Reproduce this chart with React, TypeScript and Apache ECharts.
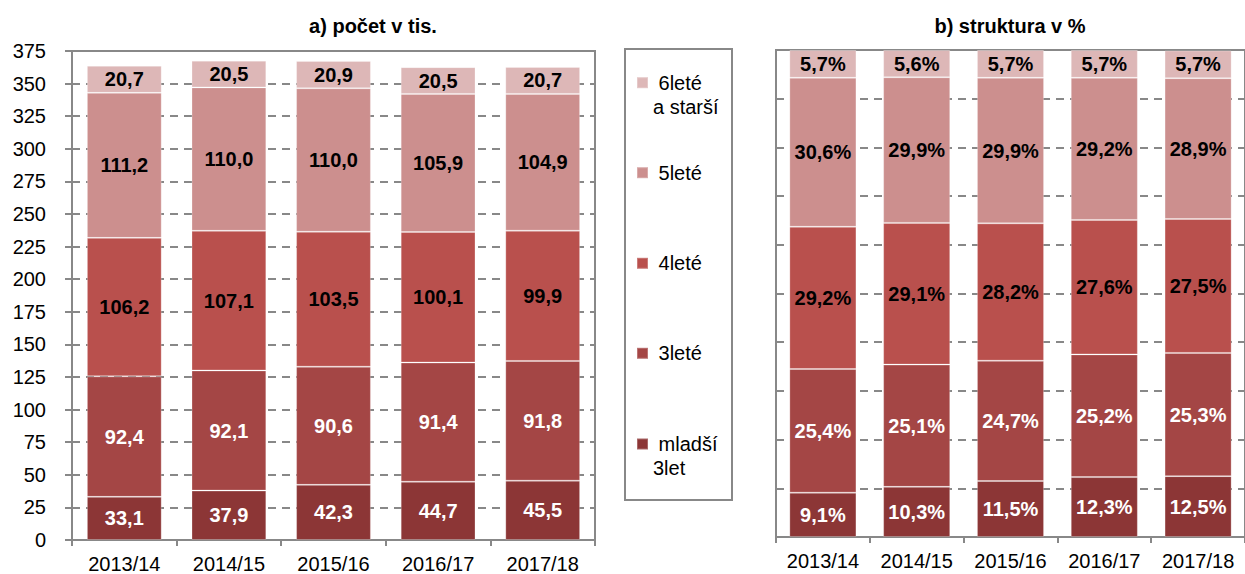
import React, { useEffect, useRef } from "react";
import * as echarts from "echarts";

const categories = ["2013/14", "2014/15", "2015/16", "2016/17", "2017/18"];
const seriesNames = ["mladší 3let", "3leté", "4leté", "5leté", "6leté a starší"];
const legendLabels = ["\n mladší\n3let", " 3leté", " 4leté", " 5leté", "\n 6leté\na starší"];
const colors = ["#8C3636", "#A44645", "#B9504D", "#CC8F8E", "#DDB7B7"];
const labelColors = ["#ffffff", "#ffffff", "#000000", "#000000", "#000000"];

// a) počet v tis.
const countMladsi = [33.1, 37.9, 42.3, 44.7, 45.5];
const count3 = [92.4, 92.1, 90.6, 91.4, 91.8];
const count4 = [106.2, 107.1, 103.5, 100.1, 99.9];
const count5 = [111.2, 110.0, 110.0, 105.9, 104.9];
const count6 = [20.7, 20.5, 20.9, 20.5, 20.7];

// b) struktura v %
const pctMladsi = [9.1, 10.3, 11.5, 12.3, 12.5];
const pct3 = [25.4, 25.1, 24.7, 25.2, 25.3];
const pct4 = [29.2, 29.1, 28.2, 27.6, 27.5];
const pct5 = [30.6, 29.9, 29.9, 29.2, 28.9];
const pct6 = [5.7, 5.6, 5.7, 5.7, 5.7];

const countData = [countMladsi, count3, count4, count5, count6];
const pctData = [pctMladsi, pct3, pct4, pct5, pct6];

const FONT = "'Liberation Sans', Arial, sans-serif";
const GREY = "#888888";

const fmt = (v: number) => v.toFixed(1).replace(".", ",");

export default function App() {
  const ref = useRef<HTMLDivElement>(null);

  useEffect(() => {
    if (!ref.current) return;
    const chart = echarts.init(ref.current, undefined, { renderer: "svg" });

    const xAxisCommon = {
      type: "category" as const,
      data: categories,
      axisLine: { show: true, lineStyle: { color: GREY, width: 2 } },
      axisTick: { show: true, length: 6, lineStyle: { color: GREY, width: 2 } },
      axisLabel: { fontSize: 20, color: "#000", fontFamily: FONT, margin: 14, interval: 0 },
      splitLine: { show: false },
    };
    const splitLine = {
      show: true,
      lineStyle: { color: GREY, width: 2, type: [8, 6] as any },
    };

    const series: any[] = [];
    seriesNames.forEach((name, i) => {
      series.push({
        name,
        type: "bar",
        stack: "count",
        xAxisIndex: 0,
        yAxisIndex: 0,
        data: countData[i],
        barCategoryGap: "28.5%",
        itemStyle: { color: colors[i], borderColor: "rgba(255,255,255,0.25)", borderWidth: 1 },
        label: {
          show: true,
          position: "inside",
          fontSize: 20,
          fontWeight: "bold",
          fontFamily: FONT,
          color: labelColors[i],
          formatter: (p: any) => fmt(p.value),
        },
      });
    });
    seriesNames.forEach((name, i) => {
      series.push({
        name,
        type: "bar",
        stack: "pct",
        xAxisIndex: 1,
        yAxisIndex: 1,
        data: pctData[i],
        barCategoryGap: "28.5%",
        itemStyle: { color: colors[i], borderColor: "rgba(255,255,255,0.25)", borderWidth: 1 },
        label: {
          show: true,
          position: "inside",
          fontSize: 20,
          fontWeight: "bold",
          fontFamily: FONT,
          color: labelColors[i],
          formatter: (p: any) => fmt(p.value) + "%",
        },
      });
    });

    // legend centres (icon centre y) for each item
    const legendCenters = [444, 353.3, 263.3, 172.7, 82.7];
    const legends = seriesNames.map((name, i) => {
      const multi = legendLabels[i].startsWith("\n");
      return {
        data: [name],
        orient: "vertical",
        left: 636,
        top: multi ? legendCenters[i] - 36 : legendCenters[i] - 12,
        padding: 0,
        icon: "rect",
        itemWidth: 11,
        itemHeight: 11,
        selectedMode: false,
        formatter: () => legendLabels[i],
        textStyle: {
          fontSize: 20,
          fontFamily: FONT,
          color: "#000",
          lineHeight: 24,
        },
      };
    });

    chart.setOption({
      animation: false,
      backgroundColor: "#ffffff",
      textStyle: { fontFamily: FONT },
      title: [
        {
          text: "a) počet v tis.",
          left: 373,
          top: 16,
          padding: 0,
          textAlign: "center",
          textStyle: { fontSize: 20, fontWeight: "bold", color: "#000", fontFamily: FONT },
        },
        {
          text: "b) struktura v %",
          left: 1010,
          top: 16,
          padding: 0,
          textAlign: "center",
          textStyle: { fontSize: 20, fontWeight: "bold", color: "#000", fontFamily: FONT },
        },
      ],
      legend: legends,
      graphic: [
        {
          type: "rect",
          shape: { x: 625, y: 49, width: 107, height: 451 },
          style: { fill: "none", stroke: GREY, lineWidth: 2 },
          silent: true,
          z: -1,
        },
      ],
      grid: [
        {
          left: 72,
          right: 650,
          top: 51,
          bottom: 33,
          show: true,
          borderColor: GREY,
          borderWidth: 2,
          backgroundColor: "transparent",
        },
        {
          left: 776,
          right: -4,
          top: 50,
          bottom: 37,
          show: true,
          borderColor: GREY,
          borderWidth: 2,
          backgroundColor: "transparent",
        },
      ],
      xAxis: [
        { ...xAxisCommon, gridIndex: 0 },
        { ...xAxisCommon, gridIndex: 1 },
      ],
      yAxis: [
        {
          type: "value",
          gridIndex: 0,
          min: 0,
          max: 375,
          interval: 25,
          axisLine: { show: true, lineStyle: { color: GREY, width: 2 } },
          axisTick: { show: true, length: 7, lineStyle: { color: GREY, width: 2 } },
          axisLabel: { fontSize: 20, color: "#000", fontFamily: FONT, margin: 26 },
          splitLine,
        },
        {
          type: "value",
          gridIndex: 1,
          min: 0,
          max: 100,
          interval: 10,
          axisLine: { show: true, lineStyle: { color: GREY, width: 2 } },
          axisTick: { show: false },
          axisLabel: { show: false },
          splitLine,
        },
      ],
      series,
    });

    return () => chart.dispose();
  }, []);

  return (
    <div
      ref={ref}
      style={{ position: "absolute", left: 0, top: 0, width: 1245, height: 574 }}
    />
  );
}
